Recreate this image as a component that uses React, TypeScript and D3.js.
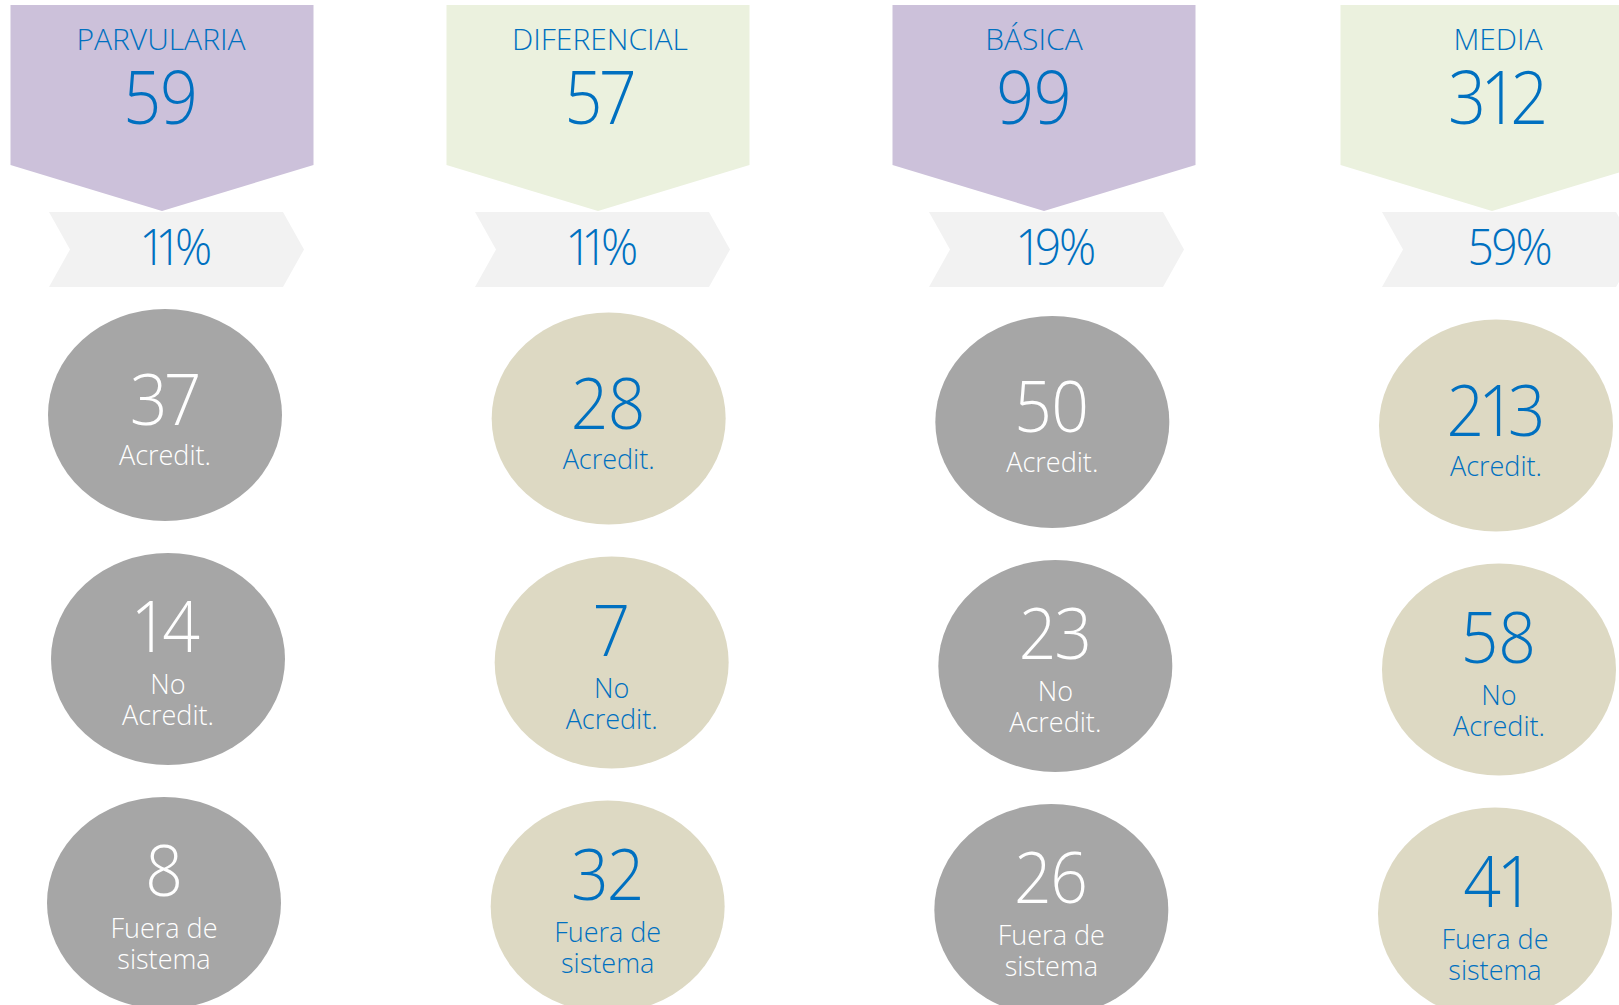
import React from "react";
import * as d3 from "d3";

const categories = ["PARVULARIA", "DIFERENCIAL", "BÁSICA", "MEDIA"];
const totals = [59, 57, 99, 312];
const shares = ["11%", "11%", "19%", "59%"];
const acreditados = [37, 28, 50, 213];
const noAcreditados = [14, 7, 23, 58];
const fueraSistema = [8, 32, 26, 41];
const rowLabels = [["Acredit."], ["No", "Acredit."], ["Fuera de", "sistema"]];
const rowKeys = ["acred", "noacred", "fuera"];

const headColors = ["#CCC1DA", "#EBF1DE", "#CCC1DA", "#EBF1DE"];
const bubbleColors = ["#A6A6A6", "#DDD9C3", "#A6A6A6", "#DDD9C3"];
const bubbleText = ["#FFFFFF", "#0070C0", "#FFFFFF", "#0070C0"];
const BLUE = "#0070C0";
const RIBBON = "#F2F2F2";
const FONT = "'Segoe UI', 'Open Sans', 'Noto Sans', sans-serif";
const WEIGHT = 350;

const W = 1619;
const H = 1005;

function SqText(props: {
  x: number;
  y: number;
  sx: number;
  size: number;
  fill: string;
  ls?: number;
  children: React.ReactNode;
}) {
  return (
    <text
      transform={`translate(${props.x},${props.y}) scale(${props.sx},1)`}
      textAnchor="middle"
      fill={props.fill}
      fontSize={props.size}
      fontWeight={WEIGHT}
      letterSpacing={props.ls ?? 0}
      style={{ fontVariantNumeric: "proportional-nums" }}
    >
      {props.children}
    </text>
  );
}

export default function App() {
  // hand-placed layout anchors of the infographic (header centres / ribbon left edges)
  const headX = d3.scaleOrdinal<string, number>().domain(categories).range([162, 598, 1044, 1492]);
  const headTextX = d3.scaleOrdinal<string, number>().domain(categories).range([161, 600, 1034, 1498]);
  const ribX = d3.scaleOrdinal<string, number>().domain(categories).range([49, 475, 929, 1382]);
  const bubX = d3.scalePoint<string>().domain(categories).range([165, 1496]);
  const y = d3.scalePoint<string>().domain(rowKeys).range([415, 903]);
  const rowDx = d3.scaleOrdinal<string, number>().domain(rowKeys).range([0, 3, -1]);
  const rows = [acreditados, noAcreditados, fueraSistema];

  const headW = 303;
  const headTop = 5;
  const shoulder = 165;
  const tip = 211;
  const ribTop = 212;
  const ribBot = 287;
  const ribW = 255;
  const notch = 21;

  const line = d3.line();

  return (
    <svg
      width={W}
      height={H}
      style={{ position: "absolute", left: 0, top: 0, display: "block" }}
      fontFamily={FONT}
    >
      <rect x={0} y={0} width={W} height={H} fill="#FFFFFF" />
      {categories.map((c, i) => {
        const cx = headX(c);
        const tx = headTextX(c);
        const l = cx - headW / 2;
        const r = cx + headW / 2;
        const head = line([
          [l, headTop],
          [r, headTop],
          [r, shoulder],
          [cx, tip],
          [l, shoulder],
        ])! + "Z";
        const rl = ribX(c);
        const rr = rl + ribW;
        const rm = (ribTop + ribBot) / 2;
        const rib = line([
          [rl, ribTop],
          [rr - notch, ribTop],
          [rr, rm],
          [rr - notch, ribBot],
          [rl, ribBot],
          [rl + notch, rm],
        ])! + "Z";
        return (
          <g key={c}>
            <path d={head} fill={headColors[i]} />
            <text x={tx} y={50} textAnchor="middle" fill={BLUE} fontSize={30} fontWeight={WEIGHT}>
              {c}
            </text>
            <SqText x={tx} y={124} sx={0.9} size={74} fill={BLUE}>
              {totals[i]}
            </SqText>
            <path d={rib} fill={RIBBON} />
            <SqText x={(rl + rr) / 2} y={265} sx={0.94} size={49} fill={BLUE} ls={-2}>
              {shares[i]}
            </SqText>
            {rowKeys.map((k, j) => {
              const cy = y(k)! + i * 3.5;
              const bx = bubX(c)! + rowDx(k);
              const lines = rowLabels[j];
              const numY = lines.length === 1 ? cy + 10 : cy - 7;
              return (
                <g key={k}>
                  <ellipse cx={bx} cy={cy} rx={117} ry={106} fill={bubbleColors[i]} />
                  <SqText x={bx} y={numY} sx={0.93} size={71} fill={bubbleText[i]}>
                    {rows[j][i]}
                  </SqText>
                  {lines.map((t, m) => (
                    <text
                      key={m}
                      x={bx}
                      y={lines.length === 1 ? cy + 50 : cy + 35 + m * 31}
                      textAnchor="middle"
                      fill={bubbleText[i]}
                      fontSize={27}
                      fontWeight={WEIGHT}
                    >
                      {t}
                    </text>
                  ))}
                </g>
              );
            })}
          </g>
        );
      })}
    </svg>
  );
}
